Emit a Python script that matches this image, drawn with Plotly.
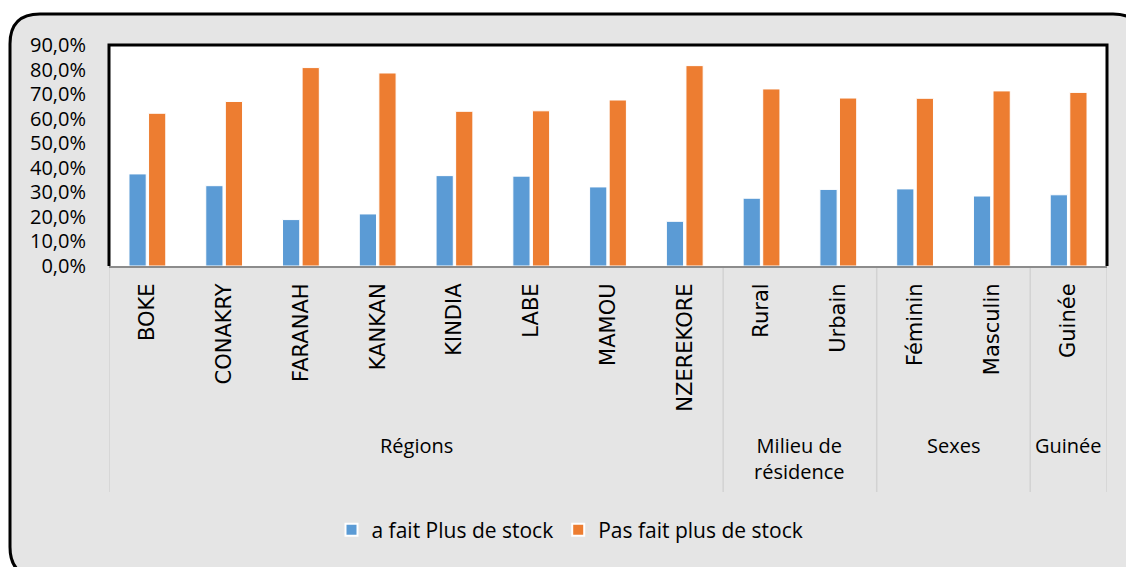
import plotly.graph_objects as go

categories = ["BOKE", "CONAKRY", "FARANAH", "KANKAN", "KINDIA", "LABE", "MAMOU",
              "NZEREKORE", "Rural", "Urbain", "Féminin", "Masculin", "Guinée"]
groups = ["Régions"] * 8 + ["Milieu de<br>résidence"] * 2 + ["Sexes"] * 2 + ["Guinée"]
series_names = ["a fait Plus de stock", "Pas fait plus de stock"]
fait = [0.375, 0.327, 0.189, 0.212, 0.368, 0.366, 0.322, 0.182, 0.276, 0.312, 0.314, 0.285, 0.290]
pas_fait = [0.622, 0.670, 0.808, 0.786, 0.630, 0.632, 0.676, 0.816, 0.721, 0.684, 0.683, 0.713, 0.707]
colors = ["#5b9bd5", "#ed7d31"]

W, H = 1126, 567
L, R, T, B = 109, 1107, 45, 266


def px(x):
    return (x - L) / (R - L)


def py(y):
    return (B - y) / (B - T)


fig = go.Figure()
for name, vals, col in zip(series_names, [fait, pas_fait], colors):
    fig.add_trace(go.Bar(
        x=categories, y=vals, name=name,
        marker=dict(color=col, line=dict(color="white", width=1)),
    ))

shapes = []
# outer rounded frame
x0, y0, x1, y1, r = 10, 14, 1143, 577, 30
path = (f"M{px(x0)},{py(y0 + r)} Q{px(x0)},{py(y0)} {px(x0 + r)},{py(y0)} "
        f"L{px(x1 - r)},{py(y0)} Q{px(x1)},{py(y0)} {px(x1)},{py(y0 + r)} "
        f"L{px(x1)},{py(y1 - r)} Q{px(x1)},{py(y1)} {px(x1 - r)},{py(y1)} "
        f"L{px(x0 + r)},{py(y1)} Q{px(x0)},{py(y1)} {px(x0)},{py(y1 - r)} Z")
shapes.append(dict(type="path", path=path, xref="paper", yref="paper",
                   fillcolor="#e5e5e5", line=dict(color="black", width=3), layer="below"))
# white plot area
shapes.append(dict(type="rect", xref="paper", yref="paper", x0=0, x1=1, y0=0, y1=1,
                   fillcolor="white", line=dict(width=0), layer="below"))
# plot border (left, top, right)
shapes.append(dict(type="path", path="M0,0 L0,1 L1,1 L1,0", xref="paper", yref="paper",
                   line=dict(color="black", width=3), layer="above"))

# group dividers and labels derived from the group list
bounds = [0]
for i in range(1, len(groups)):
    if groups[i] != groups[i - 1]:
        bounds.append(i)
bounds.append(len(groups))
for b in bounds:
    shapes.append(dict(type="line", xref="x", yref="paper", x0=b - 0.5, x1=b - 0.5,
                       y0=0, y1=py(492), line=dict(color="#d2d2d2", width=1.5), layer="below"))

annotations = []
for a, b in zip(bounds[:-1], bounds[1:]):
    annotations.append(dict(x=(a + b - 1) / 2, xref="x", y=py(430), yref="paper",
                            text=groups[a], showarrow=False, yanchor="top", xanchor="center",
                            font=dict(family="Open Sans", size=20, color="black")))

fig.update_layout(
    width=W, height=H,
    margin=dict(l=L, r=W - R, t=T, b=H - B),
    paper_bgcolor="white", plot_bgcolor="white",
    separators=", ",
    barmode="group", bargap=0.49, bargroupgap=0.12,
    shapes=shapes, annotations=annotations,
    showlegend=True,
    legend=dict(orientation="h", x=px(570), xanchor="center", y=py(530), yanchor="middle",
                bgcolor="rgba(0,0,0,0)", font=dict(family="Open Sans", size=21, color="black"),
                itemsizing="constant"),
    xaxis=dict(type="category", tickangle=-90, showgrid=False, showline=True,
               linecolor="#8c8c8c", linewidth=2, ticks="outside", ticklen=7,
               tickcolor="rgba(0,0,0,0)",
               tickfont=dict(family="DejaVu Sans", size=21, color="black"),
               range=[-0.5, len(categories) - 0.5], fixedrange=True),
    yaxis=dict(range=[0, 0.9], dtick=0.1, tickformat=".1%", showgrid=False,
               showline=False, zeroline=False, ticks="outside", ticklen=18,
               tickcolor="rgba(0,0,0,0)",
               tickfont=dict(family="Open Sans", size=20, color="black"), fixedrange=True),
)

fig.write_html("out.html", config={"displayModeBar": False},
               post_script="document.body.style.margin='0';document.body.style.overflow='hidden';")
